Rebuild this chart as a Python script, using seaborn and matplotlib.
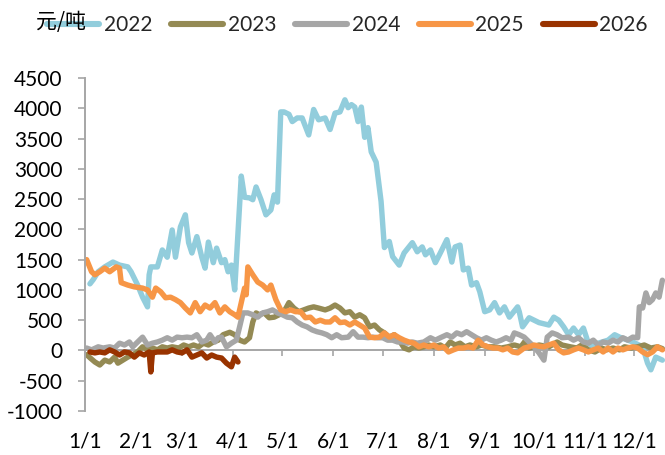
import matplotlib
matplotlib.use("Agg")
import matplotlib.pyplot as plt
from matplotlib.lines import Line2D
import numpy as np
import pandas as pd
import seaborn as sns

# Spread (元/吨) by day of the year; x values are days after 1/1
years = ["2022", "2023", "2024", "2025", "2026"]
colors = ["#92CDDC", "#948A54", "#A6A6A6", "#F79646", "#993300"]

day_2022 = [3, 5, 8, 12, 17, 21, 26, 28, 32, 35, 38, 39, 40, 44, 47, 50, 53, 55, 58, 61,
            63, 65, 68, 71, 73, 75, 78, 80, 83, 85, 87, 89, 91, 95, 97, 100, 102, 104, 107, 110,
            113, 115, 117, 119, 121, 124, 126, 129, 132, 136, 139, 142, 146, 149, 152, 155, 158, 160, 162, 164,
            166, 168, 170, 172, 174, 177, 180, 182, 185, 187, 191, 194, 199, 202, 205, 207, 210, 213, 216, 220,
            223, 225, 228, 230, 233, 235, 238, 240, 243, 246, 249, 252, 255, 258, 263, 264, 266, 270, 276, 282,
            285, 288, 291, 294, 297, 300, 303, 306, 309, 312, 318, 322, 325, 330, 333, 339, 342, 344, 347, 351]
val_2022 = [1100, 1170, 1300, 1380, 1460, 1410, 1380, 1300, 1080, 880, 720, 1250, 1380, 1380, 1660, 1540, 1990, 1540, 2040, 2240,
            1780, 1610, 1880, 1540, 1360, 1790, 1450, 1690, 1450, 1500, 1300, 1410, 1000, 2880, 2530, 2520, 2490, 2700, 2490, 2240,
            2320, 2570, 2450, 3940, 3940, 3900, 3780, 3840, 3840, 3560, 3980, 3810, 3840, 3650, 3920, 3940, 4140, 4010, 4060, 4020,
            3780, 4020, 3520, 3680, 3280, 3110, 2460, 1700, 1800, 1550, 1410, 1610, 1780, 1630, 1710, 1580, 1660, 1450, 1610, 1830,
            1460, 1710, 1740, 1330, 1360, 1080, 1120, 970, 640, 670, 790, 620, 720, 550, 720, 640, 390, 540, 460, 420,
            550, 500, 390, 260, 370, 260, 370, 120, 60, 120, 170, 260, 220, 170, 140, 60, -210, -320, -110, -160]

day_2023 = [1, 3, 6, 9, 12, 15, 18, 20, 23, 26, 29, 32, 35, 38, 41, 44, 47, 50, 53, 57,
            60, 63, 66, 69, 72, 75, 78, 81, 84, 88, 91, 94, 97, 100, 102, 104, 106, 109, 112, 115,
            118, 121, 124, 127, 130, 133, 136, 139, 142, 146, 149, 152, 155, 158, 161, 164, 167, 170, 173, 176,
            179, 182, 185, 188, 191, 194, 197, 200, 203, 206, 209, 212, 216, 219, 222, 225, 228, 231, 234, 238,
            241, 245, 249, 253, 257, 261, 265, 268, 270, 276, 282, 287, 290, 295, 299, 302, 306, 310, 314, 317,
            321, 325, 328, 332, 336, 340, 344, 348, 351]
val_2023 = [-70, -120, -190, -240, -160, -190, -110, -210, -160, -110, -70, -25, 60, 10, 40, 10, 60, 40, 60, 40,
            90, 60, 90, 60, 120, 90, 140, 170, 260, 300, 260, 170, 140, 210, 470, 620, 590, 620, 540, 550,
            590, 640, 790, 700, 640, 670, 700, 720, 700, 670, 700, 750, 700, 620, 640, 550, 590, 540, 390, 420,
            340, 290, 220, 260, 170, 40, 10, 60, 40, 60, 90, 60, 90, 40, 140, 90, 120, 60, 90, 60,
            90, 60, 60, 40, 60, 90, 60, 170, 40, 90, 60, 140, 90, 60, 40, 90, 10, -25, 40, 10,
            40, 10, 60, 40, 60, 90, 40, 60, 30]

day_2024 = [1, 4, 8, 11, 15, 18, 21, 24, 27, 29, 32, 35, 38, 41, 44, 47, 50, 53, 56, 59,
            62, 65, 68, 71, 74, 76, 79, 81, 83, 86, 89, 92, 94, 96, 99, 102, 105, 108, 111, 114,
            117, 120, 123, 126, 129, 132, 135, 138, 141, 144, 147, 150, 153, 156, 160, 163, 166, 169, 172, 175,
            178, 181, 184, 187, 190, 193, 196, 199, 202, 206, 210, 213, 216, 220, 223, 226, 229, 232, 235, 238,
            241, 244, 247, 250, 253, 256, 259, 261, 264, 267, 270, 273, 276, 279, 281, 284, 287, 290, 294, 297,
            300, 303, 306, 309, 312, 315, 318, 321, 324, 327, 330, 333, 336, 337, 339, 341, 343, 345, 347, 349, 351]
val_2024 = [40, 10, 60, 40, 60, 40, 120, 90, 140, 60, 140, 220, 90, 120, 140, 170, 210, 170, 220, 210,
            220, 210, 260, 140, 170, 260, 140, 210, 220, 60, 120, 170, 390, 620, 620, 590, 550, 620, 640, 670,
            620, 590, 550, 540, 470, 420, 390, 340, 310, 290, 260, 210, 260, 210, 220, 310, 220, 220, 210, 220,
            210, 210, 170, 170, 140, 140, 120, 140, 120, 140, 210, 170, 210, 260, 220, 290, 260, 310, 260, 210,
            170, 210, 170, 140, 170, 210, 170, 290, 260, 220, 140, 60, -40, -160, 220, 290, 260, 210, 220, 170,
            210, 140, 120, 170, 90, 140, 120, 170, 140, 210, 170, 220, 210, 720, 700, 950, 790, 840, 950, 880, 1160]

day_2025 = [1, 4, 6, 9, 12, 15, 19, 21, 22, 26, 30, 35, 38, 41, 43, 46, 49, 52, 55, 58,
            61, 64, 67, 70, 73, 76, 79, 82, 85, 88, 91, 93, 95, 97, 98, 99, 102, 105, 108, 111,
            113, 116, 119, 122, 125, 128, 131, 134, 137, 140, 143, 146, 149, 152, 155, 158, 161, 164, 167, 170,
            173, 176, 179, 182, 185, 188, 191, 194, 197, 200, 203, 206, 209, 212, 215, 218, 221, 224, 227, 230,
            233, 236, 239, 242, 245, 248, 251, 254, 257, 260, 263, 267, 270, 273, 276, 279, 282, 285, 288, 291,
            294, 297, 300, 303, 306, 309, 312, 315, 318, 321, 324, 327, 330, 333, 336, 339, 342, 345, 348, 351]
val_2025 = [1500, 1300, 1250, 1300, 1360, 1300, 1380, 1360, 1120, 1080, 1050, 1030, 1000, 880, 1030, 970, 870, 880, 840, 790,
            700, 620, 790, 640, 750, 700, 790, 620, 720, 640, 590, 550, 790, 1030, 920, 1380, 1250, 1130, 1080, 1000,
            1080, 840, 670, 640, 670, 640, 640, 540, 550, 470, 500, 470, 470, 540, 460, 470, 420, 470, 420, 370,
            220, 210, 220, 290, 220, 260, 210, 170, 140, 120, 60, 90, 60, 90, 40, 60, -25, 10, 40, 40,
            60, 40, 170, 90, 60, 40, 40, 10, 40, -25, -40, 40, 60, 90, 70, 60, 90, 120, 10, -40,
            -25, 10, 40, 10, -25, 10, 40, -25, 40, -25, 40, 10, 40, 60, 40, -25, -70, -25, 60, 10]

day_2026 = [3, 6, 9, 12, 15, 18, 21, 24, 27, 30, 33, 36, 39, 40, 41, 44, 47, 50, 53, 56,
            59, 62, 65, 68, 71, 74, 77, 80, 83, 86, 89, 91, 93]
val_2026 = [-25, -40, -25, -40, 10, -25, -75, -25, -40, -110, -40, -75, -25, -355, -40, -25, -25, -25, 10, -25,
            -40, 10, -110, -75, -40, -125, -75, -110, -125, -210, -270, -110, -190]

month_labels = ["1/1", "2/1", "3/1", "4/1", "5/1", "6/1", "7/1", "8/1", "9/1", "10/1", "11/1", "12/1"]
unit_label = "元/吨"

series = {
    "2022": (day_2022, val_2022),
    "2023": (day_2023, val_2023),
    "2024": (day_2024, val_2024),
    "2025": (day_2025, val_2025),
    "2026": (day_2026, val_2026),
}
df = pd.concat(
    [pd.DataFrame({"day": d, "value": v, "year": y}) for y, (d, v) in series.items()],
    ignore_index=True,
)
palette = dict(zip(years, colors))

sns.set_theme(style="white")
plt.rcParams["font.family"] = ["Lato", "Noto Sans CJK SC", "DejaVu Sans"]
plt.rcParams["axes.unicode_minus"] = False

fig = plt.figure(figsize=(6.65, 4.55), dpi=100)
ax = fig.add_axes([85 / 665, 44 / 455, 580 / 665, 333 / 455])

sns.lineplot(data=df, x="day", y="value", hue="year", hue_order=years, palette=palette,
             estimator=None, sort=False, linewidth=3.9, legend=False, ax=ax)
for ln in ax.get_lines():
    ln.set_solid_joinstyle("round")
    ln.set_solid_capstyle("round")

axis_color = "#A6A6A6"
ax.set_xlim(0, 352.6)
ax.set_ylim(-1000, 4500)
ax.set_yticks(np.arange(-1000, 4501, 500))
ax.set_yticklabels([f"{int(t)}" for t in np.arange(-1000, 4501, 500)])

month_starts = pd.date_range("2001-01-01", periods=12, freq="MS").dayofyear - 1
ax.set_xticks(month_starts)
ax.set_xticklabels(month_labels)

for side in ["top", "right"]:
    ax.spines[side].set_visible(False)
ax.spines["bottom"].set_position(("data", 0))
for side in ["left", "bottom"]:
    ax.spines[side].set_color(axis_color)
    ax.spines[side].set_linewidth(1.4)
ax.spines["bottom"].set_zorder(0.5)

ax.tick_params(axis="y", direction="out", length=5, width=1.2, color=axis_color,
               pad=11, labelsize=15, labelcolor="black", left=True)
ax.tick_params(axis="x", direction="out", length=4, width=1.2, color=axis_color,
               pad=54, labelsize=15, labelcolor="black", bottom=True)
ax.set_xlabel("")
ax.set_ylabel("")
ax.grid(False)

handles = [Line2D([0], [0], color=c, linewidth=4.4, solid_capstyle="round") for c in colors]
fig.legend(handles, years, loc="center left", bbox_to_anchor=(47 / 665, 1 - 25 / 455),
           ncol=5, frameon=False, fontsize=15, handlelength=2.5, handletextpad=0.22,
           columnspacing=0.9, borderpad=0, borderaxespad=0)

fig.text(36 / 665, 1 - 22 / 455, unit_label, ha="left", va="center", fontsize=15,
         family=["Noto Sans CJK SC", "DejaVu Sans"], color="black", zorder=10)

fig.savefig("out.png", dpi=100)
